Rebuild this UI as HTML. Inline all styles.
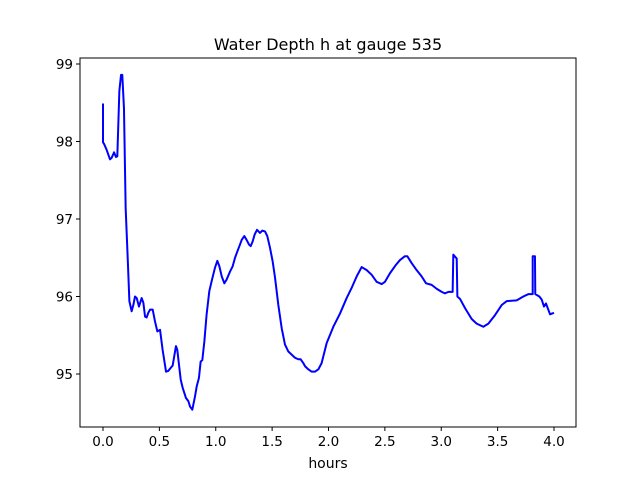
<!DOCTYPE html>
<html><head><meta charset="utf-8"><style>
html,body{margin:0;padding:0;background:#fff;}
svg{display:block;font-family:"DejaVu Sans","Liberation Sans",sans-serif;}
</style></head><body>
<svg id="chart" width="640" height="480" viewBox="0 0 640 480">
<rect width="640" height="480" fill="#fff"/>
<text x="328" y="50" text-anchor="middle" font-size="16">Water Depth h at gauge 535</text>
<text x="328" y="468" text-anchor="middle" font-size="14">hours</text>
<g id="plot"></g>
</svg>
<script>
const hours=[0,0,0.009,0.033,0.062,0.077,0.098,0.115,0.127,0.145,0.160,0.171,0.186,0.201,0.219,0.234,0.254,0.269,0.284,0.299,0.319,0.343,0.358,0.373,0.387,0.402,0.417,0.441,0.461,0.482,0.506,0.529,0.559,0.579,0.618,0.647,0.659,0.689,0.707,0.736,0.757,0.772,0.792,0.816,0.831,0.851,0.866,0.881,0.899,0.919,0.943,0.964,0.993,1.014,1.032,1.053,1.076,1.097,1.126,1.150,1.171,1.191,1.215,1.230,1.253,1.274,1.295,1.310,1.327,1.345,1.366,1.392,1.413,1.437,1.457,1.481,1.505,1.526,1.555,1.585,1.614,1.644,1.673,1.703,1.732,1.753,1.777,1.792,1.821,1.851,1.880,1.910,1.939,1.984,2.043,2.102,2.161,2.205,2.250,2.294,2.339,2.383,2.427,2.472,2.501,2.545,2.599,2.634,2.678,2.699,2.738,2.782,2.826,2.865,2.915,2.959,3.004,3.033,3.063,3.101,3.107,3.137,3.143,3.166,3.211,3.270,3.314,3.373,3.418,3.477,3.536,3.580,3.669,3.728,3.772,3.811,3.811,3.831,3.834,3.870,3.891,3.911,3.929,3.965,4.000];
const depth=[98.49,97.99,97.97,97.89,97.77,97.79,97.86,97.80,97.81,98.65,98.86,98.86,98.43,97.14,96.50,95.94,95.81,95.89,96.00,95.98,95.87,95.98,95.92,95.74,95.73,95.79,95.83,95.83,95.68,95.55,95.57,95.31,95.03,95.04,95.11,95.36,95.31,94.93,94.82,94.69,94.65,94.58,94.54,94.71,94.84,94.95,95.16,95.18,95.42,95.77,96.07,96.20,96.37,96.46,96.39,96.26,96.17,96.22,96.32,96.39,96.50,96.58,96.67,96.73,96.78,96.73,96.67,96.65,96.71,96.80,96.86,96.82,96.85,96.84,96.78,96.63,96.45,96.24,95.89,95.59,95.38,95.29,95.25,95.21,95.19,95.19,95.14,95.10,95.06,95.03,95.03,95.06,95.14,95.40,95.61,95.78,95.98,96.11,96.26,96.38,96.34,96.28,96.19,96.16,96.19,96.30,96.41,96.47,96.52,96.52,96.43,96.34,96.26,96.17,96.15,96.10,96.06,96.04,96.06,96.06,96.54,96.49,96.00,95.97,95.85,95.71,95.65,95.61,95.65,95.76,95.89,95.94,95.95,96.00,96.03,96.03,96.52,96.52,96.03,96.00,95.96,95.87,95.91,95.77,95.79];
const xTicks=[0,0.5,1,1.5,2,2.5,3,3.5,4];
const xTickLabels=["0.0","0.5","1.0","1.5","2.0","2.5","3.0","3.5","4.0"];
const yTicks=[95,96,97,98,99];
const yTickLabels=["95","96","97","98","99"];
const L=80,R=576,T=58,B=427;
function xs(v){return 103+(v-0)*112.75;}
function ys(v){return 374-(v-95)*77.5;}
const g=document.getElementById('plot');
const NS="http://www.w3.org/2000/svg";
function mk(tag,attrs){const e=document.createElementNS(NS,tag);for(const k in attrs)e.setAttribute(k,attrs[k]);g.appendChild(e);return e;}
// line
let d="";
for(let i=0;i<hours.length;i++){d+=(i?"L":"M")+xs(hours[i]).toFixed(2)+","+ys(depth[i]).toFixed(2);}
const line=mk('path',{d:d,fill:'none',stroke:'#0000ff','stroke-width':2,'stroke-linejoin':'round'});


// axes frame
const frame=mk('rect',{x:L,y:T,width:R-L,height:B-T,fill:'none',stroke:'#000','stroke-width':1});


xTicks.forEach((v,i)=>{
  const x=xs(v);
  const t=mk('line',{x1:x,x2:x,y1:B,y2:B+4,stroke:'#000'});
  
  
  const l=mk('text',{x:x,y:B+19,'text-anchor':'middle','font-size':13.5});
  l.textContent=xTickLabels[i];
  
  
});
yTicks.forEach((v,i)=>{
  const y=ys(v);
  const t=mk('line',{x1:L-4,x2:L,y1:y,y2:y,stroke:'#000'});
  
  
  const l=mk('text',{x:L-7,y:y+5,'text-anchor':'end','font-size':13.5});
  l.textContent=yTickLabels[i];
  
  
});
</script>
</body></html>
